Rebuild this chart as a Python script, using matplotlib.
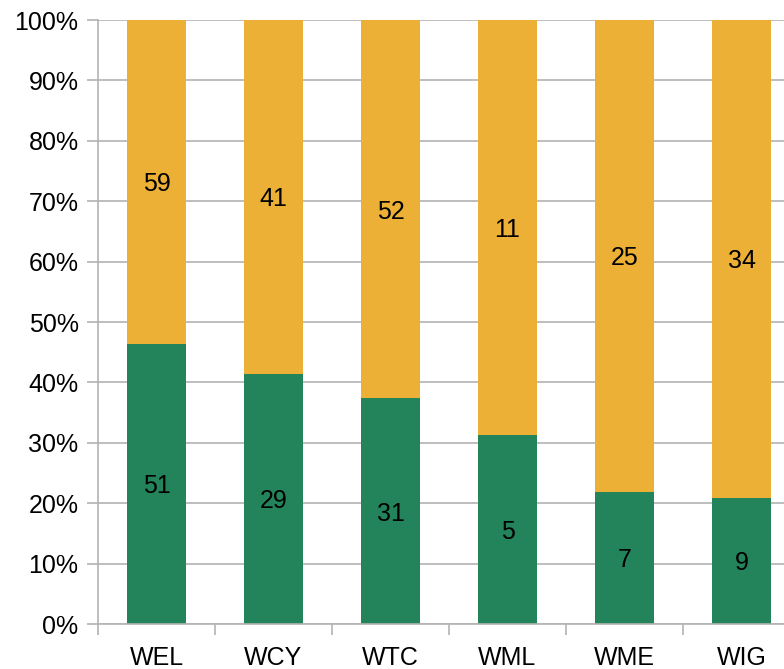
import numpy as np
import matplotlib.pyplot as plt
from matplotlib.ticker import FixedLocator

plt.rcParams['font.family'] = ['Liberation Sans', 'DejaVu Sans']

categories = ["WEL", "WCY", "WTC", "WML", "WME", "WIG"]
green_counts = [51, 29, 31, 5, 7, 9]
orange_counts = [59, 41, 52, 11, 25, 34]

green = np.array(green_counts, dtype=float)
orange = np.array(orange_counts, dtype=float)
total = green + orange
g_pct = green / total * 100
o_pct = orange / total * 100

fig = plt.figure(figsize=(7.84, 6.69), dpi=100)
ax = fig.add_axes([98 / 784, 45 / 669, 686 / 784, 604 / 669])

x = np.arange(len(categories))
c_green = "#23845c"
c_orange = "#ebb035"
ax.bar(x, g_pct, width=0.5, color=c_green, zorder=2)
ax.bar(x, o_pct, width=0.5, bottom=g_pct, color=c_orange, zorder=2)

fs = 18
for i in range(len(categories)):
    ax.text(x[i], g_pct[i] / 2, str(green_counts[i]), ha="center",
            va="center_baseline", fontsize=fs, color="black", zorder=3)
    ax.text(x[i], g_pct[i] + o_pct[i] / 2, str(orange_counts[i]), ha="center",
            va="center_baseline", fontsize=fs, color="black", zorder=3)

ax.set_xlim(-0.5, -0.5 + 686 / 117)
ax.set_ylim(0, 100)
ax.set_yticks(np.arange(0, 101, 10))
ax.set_yticklabels([f"{v}%" for v in range(0, 101, 10)])
ax.set_xticks(x)
ax.set_xticklabels(categories)
ax.xaxis.set_minor_locator(FixedLocator(np.arange(-0.5, 6, 1)))

gray = "#b3b3b3"
ax.set_axisbelow(True)
ax.yaxis.grid(True, color=gray, linewidth=1.2)
ax.tick_params(axis="y", length=8, width=1.2, color=gray, pad=6, labelsize=fs)
ax.tick_params(axis="x", which="major", length=0, pad=16, labelsize=fs)
ax.tick_params(axis="x", which="minor", length=8, width=1.2, color=gray)

for s in ["top", "right"]:
    ax.spines[s].set_visible(False)
for s in ["left", "bottom"]:
    ax.spines[s].set_color(gray)
    ax.spines[s].set_linewidth(1.2)

fig.savefig("out.png", dpi=100)
